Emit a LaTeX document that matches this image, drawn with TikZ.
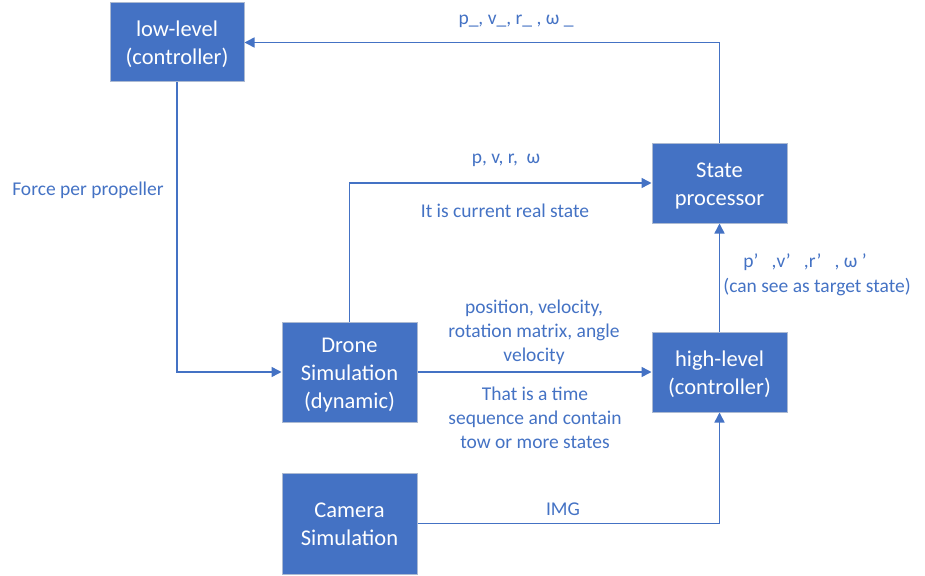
\documentclass[tikz,border=0pt]{standalone}
\usepackage{fontspec}
\setmainfont{Carlito}
\usetikzlibrary{arrows.meta}
\definecolor{boxblue}{HTML}{4472C4}
\definecolor{boxedge}{RGB}{172,186,210}
\definecolor{lineblue}{HTML}{4472C4}
\newcommand{\bt}[1]{\raisebox{-2.5pt}[\height][\depth]{\begin{tabular}{@{}c@{}}#1\end{tabular}}}
\tikzset{
  blk/.style={draw=boxedge, line width=1pt, fill=boxblue, text=white, align=center,
    font=\fontsize{22.5}{28}\selectfont, inner sep=0pt},
  lbl/.style={text=lineblue, align=center, font=\fontsize{19.5}{24}\selectfont, inner sep=0pt},
  conn/.style={draw=lineblue, line width=1.5pt},
  arr/.style={conn, -{Triangle[length=10pt,width=10pt]}}
}
\begin{document}
\begin{tikzpicture}[x=1pt,y=-1pt]
\useasboundingbox (0,0) rectangle (925,575);
\node[blk, minimum width=134, minimum height=79] (low) at (177,42.5) {\bt{low-level\\(controller)}};
\node[blk, minimum width=135, minimum height=80] (state) at (719.5,183) {\bt{State\\processor}};
\node[blk, minimum width=135, minimum height=100] (drone) at (349.5,372) {\bt{Drone\\Simulation\\(dynamic)}};
\node[blk, minimum width=135, minimum height=80] (high) at (719.5,372) {\bt{high-level\\(controller)}};
\node[blk, minimum width=135, minimum height=101] (cam) at (349.5,523.5) {\bt{Camera\\Simulation}};

\draw[arr] (state.north) |- (low.east);
\draw[arr] (low.south) |- (drone.west);
\draw[arr] (drone.north) |- (state.west);
\draw[arr] (drone.east) -- (high.west);
\draw[arr] (high.north) -- (state.south);
\draw[arr] (cam.east) -| (high.south);

\node[lbl] (l1) at (516,21) {p\_, v\_, r\_ , ω \_};
\node[lbl] (l2) at (506,160) {p, v, r,\ \ ω};
\node[lbl] (l3) at (505,211) {It is current real state};
\node[lbl] (l4) at (88,190) {Force per propeller};
\node[lbl] (l5) at (534,332) {position, velocity,\\rotation matrix, angle\\velocity};
\node[lbl] (l6) at (535,418) {That is a time\\sequence and contain\\tow or more states};
\node[lbl] (l7) at (805,262) {p’\ \ \ ,v’\ \ \ ,r’\ \ \ , ω ’};
\node[lbl] (l8) at (817,287) {(can see as target state)};
\node[lbl] (l9) at (563,509) {IMG};
\end{tikzpicture}
\end{document}
